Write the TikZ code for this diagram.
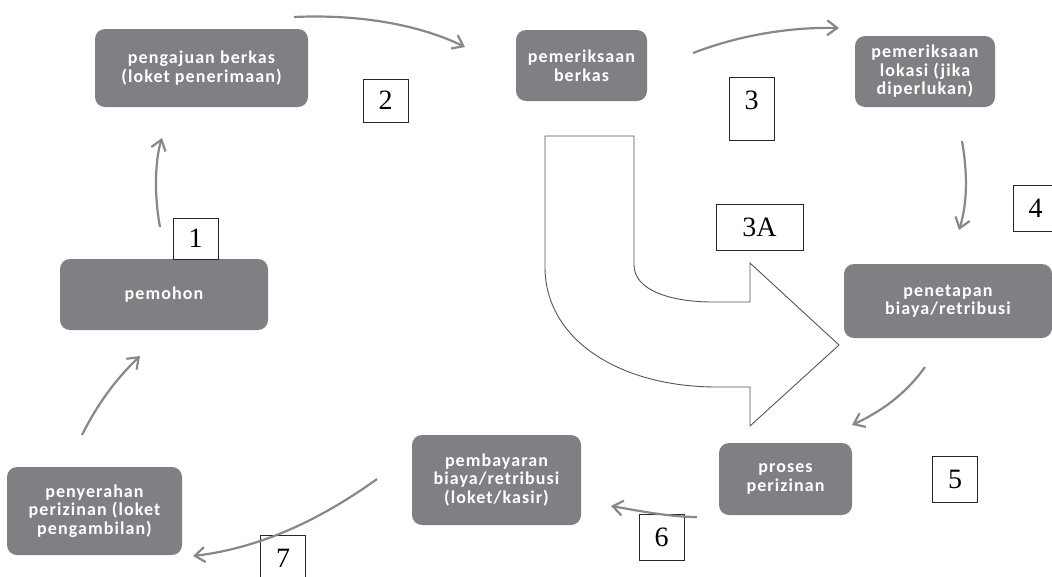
\documentclass[tikz,border=0pt]{standalone}
\usepackage{fontspec}
\setmainfont{Liberation Serif}
\newfontfamily\boxfont[LetterSpace=6]{Carlito}
\usetikzlibrary{arrows.meta}
\definecolor{boxgray}{HTML}{7F8083}
\definecolor{arrgray}{HTML}{888888}
\definecolor{outl}{HTML}{555555}
\begin{document}
\begin{tikzpicture}[x=1pt,y=-1pt,
 stepbox/.style={fill=boxgray, rounded corners=10pt, text=white, align=center,
   font=\boxfont\bfseries\fontsize{18}{18.5}\selectfont, inner sep=0pt},
 numbox/.style={draw=black!85, line width=0.8pt, fill=white, inner sep=0pt,
   font=\fontsize{28}{30}\selectfont, minimum width=45pt, minimum height=43pt},
 flow/.style={draw=arrgray, line width=2.2pt, -{Straight Barb[length=10pt,width=15pt]}}]
\useasboundingbox (0,0) rectangle (1052,576);

% steps
\node[stepbox, minimum width=208pt, minimum height=71pt] (pemohon) at (164,294.5) {pemohon};
\node[stepbox, minimum width=213pt, minimum height=78pt] (pengajuan) at (201.5,68) {pengajuan berkas\\(loket penerimaan)};
\node[stepbox, minimum width=131pt, minimum height=71pt] (berkas) at (581.5,65.5) {pemeriksaan\\berkas};
\node[stepbox, minimum width=140pt, minimum height=71pt] (lokasi) at (925,71.5) {pemeriksaan\\lokasi (jika\\diperlukan)};
\node[stepbox, minimum width=208pt, minimum height=74pt] (penetapan) at (948,301) {penetapan\\biaya/retribusi};
\node[stepbox, minimum width=133pt, minimum height=72pt] (proses) at (785.5,479) {proses\\perizinan};
\node[stepbox, minimum width=169pt, minimum height=90pt] (pembayaran) at (496.5,480) {pembayaran\\biaya/retribusi\\(loket/kasir)};
\node[stepbox, minimum width=175pt, minimum height=88pt] (penyerahan) at (94.5,511) {penyerahan\\perizinan (loket\\pengambilan)};

% big arrow 3A
\draw[draw=outl, line width=0.9pt, fill=white]
  (545,136) -- (634,136) -- (634,265)
  .. controls (634,290) and (670,302) .. (713,302)
  -- (750,302) -- (750,263) -- (839,345) -- (750,426) -- (750,387) -- (717,387)
  .. controls (620,387) and (545,340) .. (545,267) -- cycle;

% number boxes
\node[numbox, minimum height=41pt] (n1) at (195.5,238.5) {1};
\node[numbox] (n2) at (385.5,100.5) {2};
\node[numbox, minimum height=63pt, text height=19pt, text depth=17pt] (n3) at (751.5,108.5) {3};
\node[numbox, minimum width=87pt, minimum height=46pt] (n3a) at (759.5,227) {3A};
\node[numbox, minimum height=46pt] (n4) at (1035.5,208) {4};
\node[numbox, minimum height=46pt] (n5) at (955,479) {5};
\node[numbox, minimum height=46pt] (n6) at (661.5,537) {6};
\node[numbox, minimum height=46pt] (n7) at (283,558) {7};

% connector end points
\coordinate (a1s) at (160,227); \coordinate (a1e) at (162,138);
\coordinate (a2s) at (294,17);  \coordinate (a2e) at (465,47);
\coordinate (a3s) at (693,53);  \coordinate (a3e) at (839,28);
\coordinate (a4s) at (962,141); \coordinate (a4e) at (959,230);
\coordinate (a5s) at (925,367); \coordinate (a5e) at (852,425);
\coordinate (a6s) at (697,517); \coordinate (a6e) at (611,506);
\coordinate (a7s) at (377,479); \coordinate (a7e) at (193,556);
\coordinate (a8s) at (82,435);  \coordinate (a8e) at (140,356);

\draw[flow] (a1s) .. controls (154,195) and (155,160) .. (a1e);
\draw[flow] (a2s) .. controls (360,14) and (420,25) .. (a2e);
\draw[flow] (a3s) .. controls (740,35) and (790,27) .. (a3e);
\draw[flow] (a4s) .. controls (968,175) and (967,205) .. (a4e);
\draw[flow] (a5s) .. controls (905,395) and (880,412) .. (a5e);
\draw[flow] (a6s) .. controls (670,517) and (640,511) .. (a6e);
\draw[flow] (a7s) .. controls (320,520) and (260,548) .. (a7e);
\draw[flow] (a8s) .. controls (97,405) and (115,380) .. (a8e);
\end{tikzpicture}
\end{document}
